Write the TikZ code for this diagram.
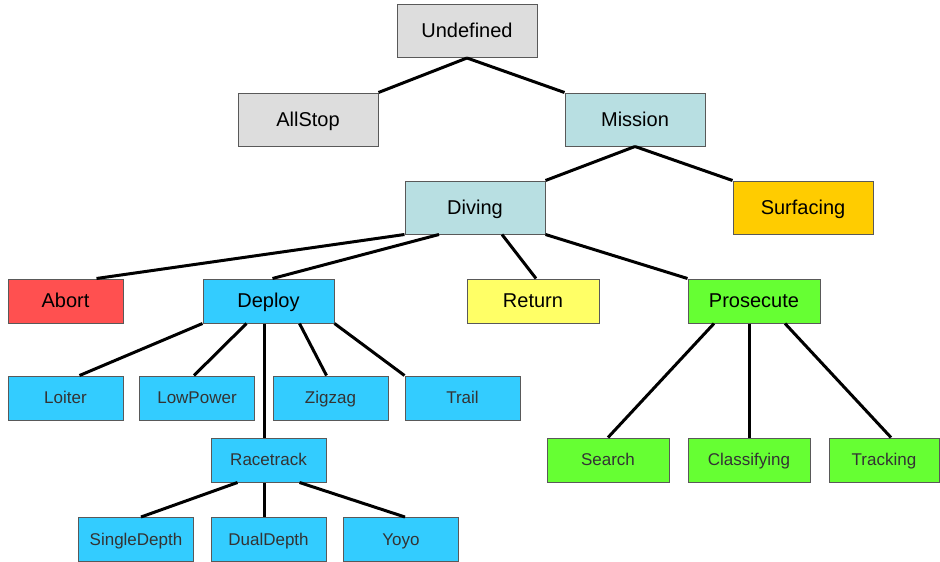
\documentclass[tikz,border=0pt]{standalone}
\usepackage{fontspec}
\setmainfont{Liberation Sans}
\usepackage{tikz}

\definecolor{grayfill}{HTML}{DDDDDD}
\definecolor{missionfill}{HTML}{B8DFE2}
\definecolor{surffill}{HTML}{FFCC00}
\definecolor{abortfill}{HTML}{FF5050}
\definecolor{deployfill}{HTML}{33CCFF}
\definecolor{returnfill}{HTML}{FFFF66}
\definecolor{prosfill}{HTML}{66FF33}

\begin{document}
\begin{tikzpicture}[x=1pt, y=-1pt,
  box/.style={draw=black!65, line width=1pt, inner sep=0pt, minimum height=44pt},
  upper/.style={box, minimum width=140pt, minimum height=53pt,
    font=\fontsize{20}{24}\selectfont, text height=14.4pt, text depth=1pt},
  mid/.style={box, font=\fontsize{20}{24}\selectfont, text height=14.4pt, text depth=1pt},
  leaf/.style={box, minimum width=115pt, font=\fontsize{17}{20}\selectfont,
    text height=12.2pt, text depth=0.8pt, text=black!80},
  link/.style={line width=3pt}]
  \useasboundingbox (0,0) rectangle (940,562);

  % top levels
  \node[upper, fill=grayfill] (undef) at (467,31) {Undefined};
  \node[upper, fill=grayfill] (allstop) at (308,119.5) {AllStop};
  \node[upper, fill=missionfill] (mission) at (635,119.5) {Mission};
  \node[upper, fill=missionfill] (diving) at (475,207.5) {Diving};
  \node[upper, fill=surffill] (surf) at (803,207.5) {Surfacing};

  % diving children
  \node[mid, minimum width=115pt, fill=abortfill] (abort) at (65.5,301) {Abort};
  \node[mid, minimum width=131pt, fill=deployfill] (deploy) at (268.5,301) {Deploy};
  \node[mid, minimum width=132pt, fill=returnfill] (return) at (533,301) {Return};
  \node[mid, minimum width=132pt, fill=prosfill] (pros) at (754,301) {Prosecute};

  % deploy children
  \node[leaf, fill=deployfill] (loiter) at (65.5,398) {Loiter};
  \node[leaf, fill=deployfill] (lowpower) at (197,398) {LowPower};
  \node[leaf, fill=deployfill] (zigzag) at (330.5,398) {Zigzag};
  \node[leaf, fill=deployfill] (trail) at (462.5,398) {Trail};
  \node[leaf, fill=deployfill] (racetrack) at (268.5,460) {Racetrack};
  \node[leaf, fill=deployfill] (single) at (136,539.5) {SingleDepth};
  \node[leaf, fill=deployfill] (dual) at (268.5,539.5) {DualDepth};
  \node[leaf, fill=deployfill] (yoyo) at (401,539.5) {Yoyo};

  % prosecute children
  \node[leaf, minimum width=122pt, fill=prosfill] (search) at (608,460) {Search};
  \node[leaf, minimum width=122pt, fill=prosfill] (classify) at (749,460) {Classifying};
  \node[leaf, minimum width=110pt, fill=prosfill] (tracking) at (884,460) {Tracking};

  % links
  \draw[link] (undef.south) -- (allstop.north east);
  \draw[link] (undef.south) -- (mission.north west);
  \draw[link] (mission.south) -- (diving.north east);
  \draw[link] (mission.south) -- (surf.north west);
  \draw[link] (diving.south west) -- ([xshift=31]abort.north);
  \draw[link] ([xshift=-36]diving.south) -- ([xshift=4]deploy.north);
  \draw[link] ([xshift=27]diving.south) -- ([xshift=3]return.north);
  \draw[link] (diving.south east) -- (pros.north west);
  \draw[link] (deploy.south west) -- ([xshift=14]loiter.north);
  \draw[link] ([xshift=-22]deploy.south) -- ([xshift=-3]lowpower.north);
  \draw[link] ([xshift=-4]deploy.south) -- ([xshift=-4]racetrack.north);
  \draw[link] ([xshift=31]deploy.south) -- ([xshift=-4]zigzag.north);
  \draw[link] (deploy.south east) -- (trail.north west);
  \draw[link] ([xshift=-31]racetrack.south) -- ([xshift=5]single.north);
  \draw[link] ([xshift=-4]racetrack.south) -- ([xshift=-4]dual.north);
  \draw[link] ([xshift=31]racetrack.south) -- ([xshift=4]yoyo.north);
  \draw[link] ([xshift=-40]pros.south) -- (search.north);
  \draw[link] ([xshift=-5]pros.south) -- (classify.north);
  \draw[link] ([xshift=31]pros.south) -- ([xshift=7]tracking.north);
\end{tikzpicture}
\end{document}
